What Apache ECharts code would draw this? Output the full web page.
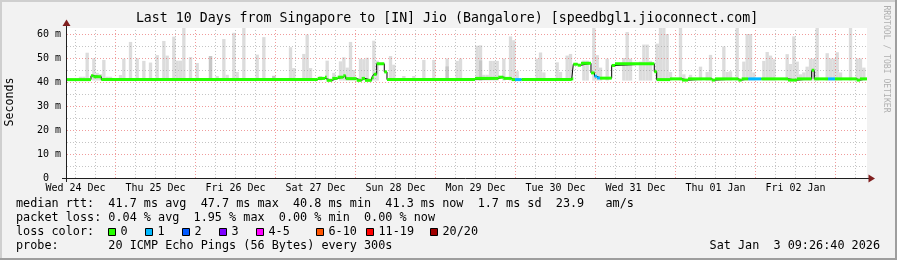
<!DOCTYPE html>
<html><head><meta charset="utf-8">
<script src="https://cdn.jsdelivr.net/npm/echarts@6/dist/echarts.min.js"></script>
<style>html,body{margin:0;padding:0;background:#f2f2f2}#c{width:897px;height:260px}</style>
</head><body><div id="c"></div>
<script>
// ---- time axis: hours since Wed 24 Dec 00:00 ----
const START_H = 9 + 26/60 + 40/3600;   // Wed 24 Dec 09:26:40
const END_H = START_H + 240;           // Sat 03 Jan 09:26:40

const dayLabels = ['Wed 24 Dec','Thu 25 Dec','Fri 26 Dec','Sat 27 Dec','Sun 28 Dec','Mon 29 Dec','Tue 30 Dec','Wed 31 Dec','Thu 01 Jan','Fri 02 Jan'];
const dayLabelHours = [12, 36, 60, 84, 108, 132, 156, 180, 204, 228];
const yTickValues = [0, 10, 20, 30, 40, 50, 60];

// ---- median rtt (ms) steps: start hour, value, loss count ----
const medianHours = [START_H,16.64,17.39,19.73,84.65,86.84,87.35,89.03,90.65,92.33,93.05,96.35,97.85,98.84,100.85,101.45,102.35,104.63,105.44,131.84,138.83,140.33,142.84,143.84,145.85,160.85,161.33,162.65,163.64,166.64,167.69,168.44,169.34,172.85,173.84,185.63,186.35,190.34,193.94,195.74,202.85,203.84,210.83,211.85,213.84,217.74,225.74,228.44,232.85,233.63,237.74,239.84,246.35,247.34];
const medianValues = [41.0,42.6,42.2,41.0,41.5,42.0,40.7,41.5,42.0,42.6,41.4,40.7,41.5,40.7,41.8,43.2,47.6,44.2,41.0,41.5,42.0,41.5,41.0,41.0,41.0,41.3,47.4,47.0,47.8,43.8,42.4,41.7,41.6,46.9,47.6,44.3,41.0,41.3,40.8,41.3,40.8,41.3,40.8,41.3,41.3,41.3,40.8,41.3,44.9,41.3,41.3,41.3,40.8,41.3];
const medianLoss = [0,0,0,0,0,0,0,0,0,0,0,0,0,0,0,0,0,0,0,0,0,0,0,1,0,0,0,0,0,0,1,1,0,0,0,0,0,0,0,0,0,0,0,0,1,0,0,0,0,0,1,0,0,0];

// ---- smoke (ping spread per hour): hour index, max ping (ms) ----
const smokeHours = [13,14,15,17,18,19,20,21,22,25,26,28,30,32,34,36,38,39,41,42,43,44,46,48,52,54,56,57,59,60,62,66,68,71,76,77,80,81,82,85,87,89,91,92,93,94,95,97,98,99,101,102,106,107,110,113,116,119,123,126,127,132,133,134,135,136,137,138,140,142,143,144,150,151,152,156,157,159,160,164,165,167,168,169,171,176,177,178,181,182,183,184,186,187,188,189,190,193,194,196,199,201,202,206,207,208,210,212,213,214,215,218,219,220,221,225,226,227,228,229,230,231,232,233,234,237,238,239,240,241,244,246,247,248];
const smokeTops  = [42.2,42.2,52.2,49.9,43.8,43.3,49.2,42.2,42.2,42.9,49.7,56.7,49.9,48.8,48.1,51.2,57.1,51.0,58.9,48.9,48.9,62.5,50.4,47.9,50.8,42.5,57.9,43.0,60.5,44.2,62.5,51.4,58.7,42.5,54.5,45.8,51.7,59.8,45.8,42.5,48.9,43.8,48.6,50.3,46.0,56.7,45.0,49.7,49.5,50.1,57.2,48.9,50.8,47.2,42.5,42.5,49.2,49.2,49.8,48.8,49.8,55.1,55.3,43.0,43.0,48.8,48.8,48.8,49.7,59.0,57.4,44.5,49.7,52.3,44.0,48.2,44.2,51.0,51.7,48.9,48.9,62.5,51.2,46.0,49.7,50.0,60.8,49.7,48.5,55.6,55.6,48.8,56.0,62.5,62.5,60.0,44.2,62.5,43.2,43.0,46.4,44.2,51.3,54.8,44.2,44.5,62.5,48.5,60.0,60.0,44.0,48.8,52.5,51.0,49.5,51.6,47.5,59.0,48.5,43.2,44.0,46.4,49.7,49.7,62.5,52.0,49.8,49.8,52.4,44.0,62.5,49.8,49.8,46.0];
const darkHours = [52, 71, 123, 133];
const darkTops  = [50.8, 42.6, 46.5, 49.0];
const smokeBottom = 40.6;

const lossColors = ['#26ff00','#00b8ff','#0059ff','#7e00ff','#ff00ff','#ff5500','#ff0000','#a00000'];
const lossLabels = ['0','1','2','3','4-5','6-10','11-19','20/20'];

const titleText = 'Last 10 Days from Singapore to [IN] Jio (Bangalore) [speedbgl1.jioconnect.com]';
const statLines = [
  'median rtt:  41.7 ms avg  47.7 ms max  40.8 ms min  41.3 ms now  1.7 ms sd  23.9   am/s',
  'packet loss: 0.04 % avg  1.95 % max  0.00 % min  0.00 % now',
  'loss color:',
  'probe:       20 ICMP Echo Pings (56 Bytes) every 300s'
];
const dateText = 'Sat Jan  3 09:26:40 2026';

// ---------------------------------------------------------------
const MONO = '"DejaVu Sans Mono", monospace';
const chart = echarts.init(document.getElementById('c'), null, {renderer: 'canvas'});

const smokeData = smokeHours.map((h, i) => [h, smokeTops[i], smokeBottom]);
const darkData = darkHours.map((h, i) => [h, darkTops[i], smokeBottom]);
const segData = medianHours.map((h, i) => [h, i + 1 < medianHours.length ? medianHours[i + 1] : END_H, medianValues[i], medianLoss[i]]);
const stepData = medianHours.map((h, i) => [h, medianValues[i]]).concat([[END_H, medianValues[medianValues.length - 1]]]);

// grid lines (6h minor, 24h major; 5ms minor, 10ms major)
const MINOR = 'rgba(150,150,150,0.55)', MAJOR = 'rgba(230,90,90,0.6)';
const gridLines = [];
for (let h = 12; h < END_H; h += 6) {
  gridLines.push({xAxis: h, lineStyle: {color: h % 24 === 0 ? MAJOR : MINOR, type: [1, 2], width: 1}});
}
for (let v = 5; v <= 60; v += 5) {
  gridLines.push({yAxis: v, lineStyle: {color: v % 10 === 0 ? MAJOR : MINOR, type: [1, 2], width: 1}});
}

function clipRect(r, params) {
  const cs = params.coordSys;
  return echarts.graphic.clipRectByRect(r, {x: cs.x, y: cs.y, width: cs.width, height: cs.height});
}
function smokeRender(color) {
  return function (params, api) {
    const p0 = api.coord([api.value(0), api.value(1)]);
    const p1 = api.coord([api.value(0) + 1, api.value(2)]);
    const shape = clipRect({x: p0[0], y: p0[1], width: p1[0] - p0[0], height: p1[1] - p0[1]}, params);
    return shape && {type: 'rect', shape: shape, style: {fill: color}};
  };
}

const graphics = [];
// frame
graphics.push({type: 'rect', shape: {x: 0, y: 0, width: 897, height: 2}, style: {fill: '#cfcfcf'}, z: 100});
graphics.push({type: 'rect', shape: {x: 0, y: 0, width: 2, height: 260}, style: {fill: '#cfcfcf'}, z: 100});
graphics.push({type: 'rect', shape: {x: 0, y: 258, width: 897, height: 2}, style: {fill: '#9e9e9e'}, z: 100});
graphics.push({type: 'rect', shape: {x: 895, y: 0, width: 2, height: 260}, style: {fill: '#9e9e9e'}, z: 100});
// axes + arrows
graphics.push({type: 'line', shape: {x1: 66.5, y1: 24, x2: 66.5, y2: 182}, style: {stroke: '#1f1f1f', lineWidth: 1}, z: 100});
graphics.push({type: 'line', shape: {x1: 62, y1: 178.5, x2: 869, y2: 178.5}, style: {stroke: '#1f1f1f', lineWidth: 1}, z: 100});
graphics.push({type: 'polygon', shape: {points: [[66.5, 19.5], [62.5, 26], [70.5, 26]]}, style: {fill: '#801f1f'}, z: 101});
graphics.push({type: 'polygon', shape: {points: [[875, 178.5], [868.5, 174.5], [868.5, 182.5]]}, style: {fill: '#801f1f'}, z: 101});
// texts
graphics.push({type: 'text', z: 100, style: {text: titleText, x: 447, y: 18.5, font: '13.25px ' + MONO, fill: '#000', textAlign: 'center', textVerticalAlign: 'middle'}});
graphics.push({type: 'text', z: 100, rotation: Math.PI / 2, x: 10, y: 102, style: {text: 'Seconds', x: 0, y: 0, font: '11.6px ' + MONO, fill: '#000', textAlign: 'center', textVerticalAlign: 'middle'}});
graphics.push({type: 'text', z: 100, rotation: -Math.PI / 2, x: 886, y: 59, style: {text: 'RRDTOOL / TOBI OETIKER', x: 0, y: 0, font: '8.1px ' + MONO, fill: '#b0b0b0', textAlign: 'center', textVerticalAlign: 'middle'}});
const lineY = [204, 218, 232, 246];
statLines.forEach((t, i) => {
  graphics.push({type: 'text', z: 100, style: {text: t, x: 16, y: lineY[i], font: '11.8px ' + MONO, fill: '#000', textAlign: 'left', textVerticalAlign: 'middle'}});
});
graphics.push({type: 'text', z: 100, style: {text: dateText, x: 880, y: 246, font: '11.8px ' + MONO, fill: '#000', textAlign: 'right', textVerticalAlign: 'middle'}});
const swatchX = [108.5, 145.5, 182.5, 219.5, 256.5, 316.5, 366.5, 430.5];
lossLabels.forEach((lab, i) => {
  graphics.push({type: 'rect', z: 100, shape: {x: swatchX[i], y: 228.5, width: 7, height: 7}, style: {fill: lossColors[i], stroke: '#000', lineWidth: 1}});
  graphics.push({type: 'text', z: 100, style: {text: lab, x: swatchX[i] + 12, y: 232, font: '11.8px ' + MONO, fill: '#000', textAlign: 'left', textVerticalAlign: 'middle'}});
});

const option = {
  animation: false,
  backgroundColor: '#f2f2f2',
  grid: {left: 67, top: 28, width: 800, height: 150, backgroundColor: '#ffffff', show: true, borderWidth: 0},
  xAxis: {
    type: 'value', min: START_H, max: END_H,
    axisLine: {show: false}, axisTick: {show: false}, splitLine: {show: false},
    axisLabel: {
      customValues: dayLabelHours,
      formatter: v => dayLabels[Math.round((v - 12) / 24)] || '',
      fontFamily: 'DejaVu Sans Mono', fontSize: 10, color: '#000', margin: 5
    }
  },
  yAxis: {
    type: 'value', min: 0, max: 62.5, interval: 10,
    axisLine: {show: false}, axisTick: {show: false}, splitLine: {show: false},
    axisLabel: {
      customValues: yTickValues,
      formatter: v => v === 0 ? '0  ' : v + ' m',
      fontFamily: 'DejaVu Sans Mono', fontSize: 10, color: '#000', margin: 6
    }
  },
  series: [
    {type: 'line', data: [], z: 1, silent: true,
     markLine: {silent: true, symbol: ['none', 'none'], label: {show: false}, animation: false, data: gridLines}},
    {type: 'custom', z: 2, silent: true, data: smokeData, encode: {x: 0, y: [1, 2]}, renderItem: smokeRender('#dcdcdc')},
    {type: 'custom', z: 3, silent: true, data: darkData, encode: {x: 0, y: [1, 2]}, renderItem: smokeRender('#c6c6c6')},
    {type: 'line', z: 4, silent: true, data: stepData, step: 'end', symbol: 'none', clip: true,
     lineStyle: {color: '#000', width: 1}},
    {type: 'custom', z: 5, silent: true, data: segData, encode: {x: [0, 1], y: 2},
     renderItem: function (params, api) {
       const a = api.coord([api.value(0), api.value(2)]);
       const b = api.coord([api.value(1), api.value(2)]);
       const shape = clipRect({x: a[0], y: a[1] - 1.5, width: b[0] - a[0], height: 3}, params);
       return shape && {type: 'rect', shape: shape, style: {fill: lossColors[api.value(3)]}};
     }}
  ],
  graphic: graphics
};
chart.setOption(option);
</script>
</body></html>
